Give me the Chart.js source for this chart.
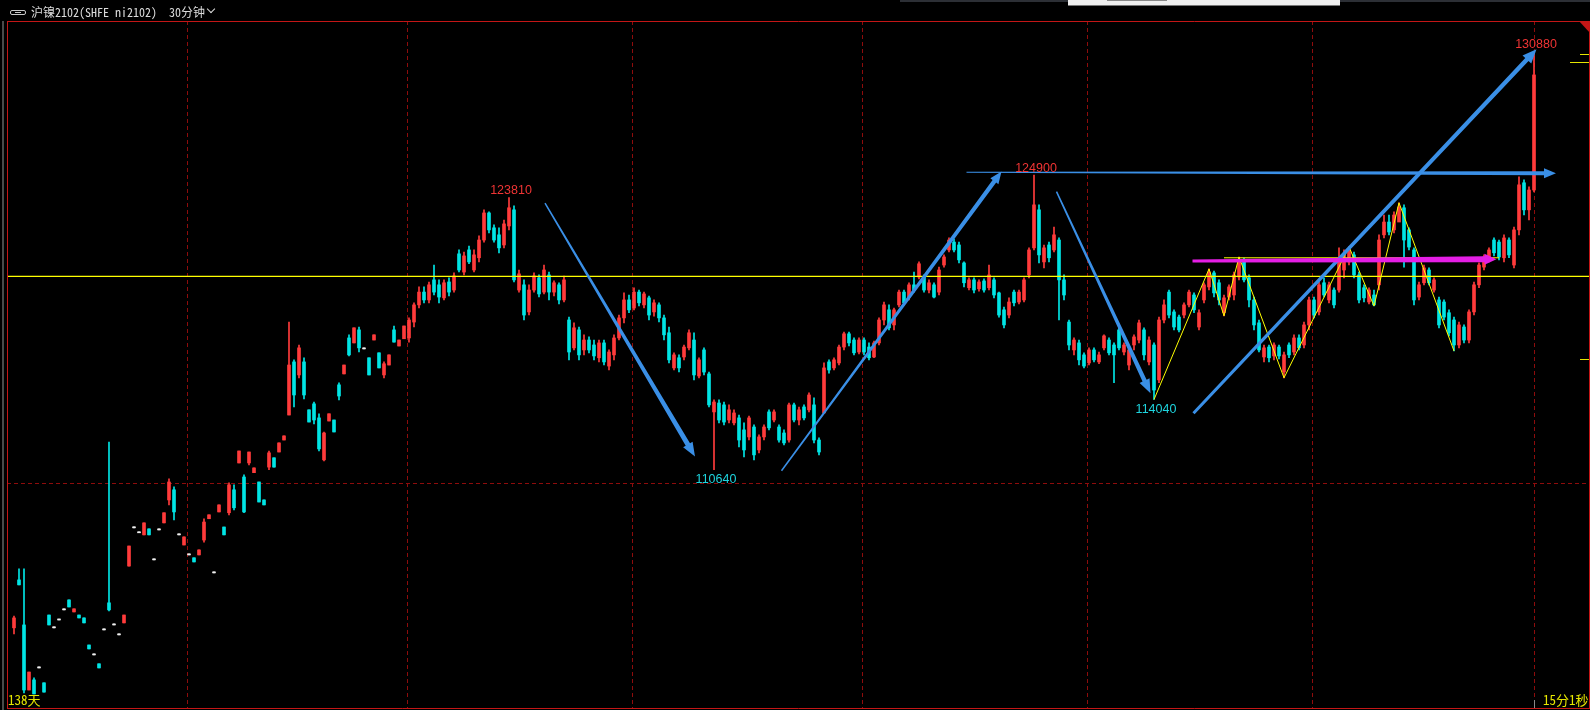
<!DOCTYPE html>
<html>
<head>
<meta charset="utf-8">
<title>沪镍2102 30分钟</title>
<script src="https://cdn.jsdelivr.net/npm/chart.js@4.4.0/dist/chart.umd.min.js"></script>
<style>
  html, body { margin: 0; padding: 0; background: #000; }
  body { position: relative; width: 1590px; height: 710px; overflow: hidden;
         font-family: "Noto Sans Mono CJK SC", "Noto Sans CJK SC", monospace; }
  #chart { position: absolute; left: 0; top: 0; }
  .strip { position: absolute; left: 900px; top: 0; width: 690px; height: 2px; background: #2c2f35; }
  .popup { position: absolute; left: 1068px; top: 0; width: 272px; height: 5px; background: #efefef;
           border-bottom: 1px solid #777; }
  .popup i { position: absolute; left: 39px; top: 0; width: 60px; height: 1px; background: #888; }
  .leftbar { position: absolute; left: 2px; top: 21px; width: 2px; height: 689px; background: #4a4a4a; }
  .ico { position: absolute; left: 10px; top: 10px; width: 14px; height: 3px; border: 1px solid #c8c8c8; border-radius: 2px; }
  .ico:after { content: ""; position: absolute; left: 4px; top: 1px; width: 6px; height: 1px; background: #c8c8c8; }
  .title { position: absolute; top: 4px; color: #dcdcdc; font-size: 12px; line-height: 16px; white-space: pre; }
  .chev { position: absolute; left: 208px; top: 6px; width: 5px; height: 5px;
          border-right: 1.5px solid #dcdcdc; border-bottom: 1.5px solid #dcdcdc; transform: rotate(45deg); }
  .foot { position: absolute; top: 692px; color: #e6e600; font-size: 13px; line-height: 16px; }
</style>
</head>
<body>
<canvas id="chart" width="1590" height="710"></canvas>
<div class="strip"></div>
<div class="popup"><i></i></div>
<div class="leftbar"></div>
<span class="ico"></span>
<span class="title" style="left:31px">沪镍2102(SHFE ni2102)</span>
<span class="title" style="left:169px">30分钟</span>
<span class="chev"></span>
<span class="foot" style="left:8px">138天</span>
<span class="foot" style="left:1543px">15分1秒</span>
<script>
/* 沪镍2102 30分钟 K线 */

// one entry per bar
const opens = [
  102990,105310,103130,99980,100470,101050,100330,103610,102990,103370,
  103860,104340,103760,103610,103470,102160,101680,101250,102890,104200,
  103130,102650,103230,105980,107830,107590,107490,107780,106280,107730,
  108070,109180,109670,107490,107000,106520,106380,106520,107240,108270,
  105650,108600,107870,108560,109670,110970,110290,110970,110500,110050,
  109180,110770,111220,111500,112080,113290,115860,115230,115860,113540,
  113830,113150,111120,113000,113050,114750,115280,117020,116780,117410,
  116490,116060,116920,116300,115230,115710,117410,116630,116980,117020,
  117790,118620,119240,118860,119830,119590,118960,119730,119340,121090,
  120210,121280,120310,120900,121760,123070,122350,122010,121520,122440,
  123220,119340,119590,118280,119340,119930,119240,120070,119240,119590,
  118860,117890,116540,117410,116440,116920,116680,116060,116780,115660,
  116200,117020,117990,118860,118470,119240,118620,118960,118280,118620,
  117990,117270,115570,116060,116100,116540,116920,115180,116440,115280,
  113440,113870,113780,113050,112910,113150,112570,112230,112710,111600,
  112230,113440,113050,112710,112420,112080,113780,113050,113680,113540,
  113780,112080,113390,115860,115570,115810,116580,117220,116920,116340,
  116920,116580,116100,116780,117890,118380,117650,118620,119240,119000,
  119590,119970,119970,119340,119590,119240,120550,121280,121660,121520,
  120650,119450,119830,119400,119780,119450,119830,119200,118380,118130,
  119240,118760,118860,120070,121380,123220,120700,121520,121280,121760,
  119830,117790,116440,116780,116200,115810,116440,115860,116540,116920,
  116680,117410,116340,115710,116680,116920,117410,115860,116680,114990,
  117890,119240,118280,118030,118130,118620,119100,117550,118860,119490,
  120170,119690,118240,119000,119100,119970,120700,119930,118860,117750,
  116100,116580,116150,116580,115370,116680,116340,117020,116680,117650,
  118860,118280,119690,118860,119340,119340,120310,120700,121040,120070,
  119450,118760,119100,119590,122010,122630,122250,122630,123320,122250,
  121280,119000,119690,120310,119340,118860,118760,118240,117890,116680,
  117550,116920,118280,119590,120450,120800,121760,121660,120900,121760,
  120550,122250,124530,123220,124180
];
const highs = [
  103560,105840,105840,100850,100570,101050,100330,103610,102990,103370,
  103860,104340,103910,103610,103470,102160,101680,101250,102890,111980,
  103130,102650,103610,106950,107830,107590,108070,107780,106280,107730,
  108560,110200,109810,107490,107390,106520,106380,106760,108270,108460,
  105650,108940,107870,110010,109910,111550,110390,111500,110730,110050,
  109180,111550,111220,111940,112280,117790,115960,116680,116060,113540,
  113920,113350,112470,113350,113050,114850,115710,117170,117510,117550,
  116490,116060,117170,116300,115860,116200,117600,116920,117600,117990,
  118720,119490,119490,119730,120550,119830,119830,119930,120170,121280,
  121180,121470,121280,121960,123220,123120,122490,122350,122730,123810,
  123410,120310,119830,119590,120170,120070,120550,120210,119780,119690,
  120020,118030,117750,117550,117170,117070,116920,116920,116920,116440,
  117170,118130,119200,119100,119450,119340,119240,119050,118860,118720,
  118130,117550,116300,116200,116680,117410,117270,116060,116540,115370,
  114020,114020,113920,113780,113540,113290,112910,113240,112810,112330,
  112810,113540,113540,112810,112570,113870,113870,113680,113780,114360,
  114120,112180,115810,115960,116060,116680,117310,117310,117020,117020,
  117020,116780,116870,117990,118760,118620,118470,119340,119340,119690,
  120210,120700,120070,119830,119690,120450,121040,121860,121810,121660,
  120700,119930,119930,119830,119880,120550,119930,119240,118520,118960,
  119340,119340,119930,121380,124900,123460,121520,121660,122390,121860,
  120070,117890,117020,116920,116300,116540,116540,116340,117170,117020,
  116780,117510,116780,116540,117170,117890,117510,117070,116780,118030,
  118860,119340,118380,118130,118720,119340,119200,118380,119690,120360,
  120260,119830,119100,119590,120210,120940,120890,120070,119000,117890,
  116680,116680,116780,116680,116340,116780,117170,117170,117790,119000,
  119000,119730,119930,119730,119450,121380,121280,121430,121180,120210,
  119590,119450,119340,122010,122970,122970,123120,123560,123460,122350,
  121380,119730,120550,120410,119930,119000,118860,118380,118030,117790,
  117650,118380,119730,120650,121040,121380,121860,121760,122010,121860,
  122390,124820,124670,124330,130880
];
const lows = [
  102700,105070,99840,99980,99790,101050,99880,103130,102990,103370,
  103860,104000,103760,103470,103230,101970,101680,101050,102890,103810,
  103130,102650,103230,105980,107830,107590,107490,107490,106280,107730,
  108070,108940,108210,107490,107000,106520,106180,106520,107140,108270,
  105650,108600,107490,108460,108700,110970,108560,110870,110500,109080,
  108940,110640,110770,111500,112080,113290,113680,115090,114070,112950,
  112860,111550,111070,113000,112470,114020,115280,116150,116780,116340,
  116490,115230,116920,115570,115090,115710,116820,116630,116980,116820,
  117550,118470,118720,118720,119100,118720,118860,119050,119240,120210,
  120070,120610,120210,120700,121660,122100,121660,121140,121380,122250,
  119730,119240,117890,118130,119240,119000,119150,118860,119050,118670,
  118760,115960,116440,115960,116200,116300,115960,115860,115710,115470,
  115960,116920,117750,118240,118380,118570,118470,117890,118080,117790,
  116920,115810,115470,115370,115960,116440,114990,115090,115230,113680,
  110640,112910,112810,112910,112810,111740,111260,112080,111120,111460,
  112080,112570,112950,111980,111840,111980,112950,112810,113050,113440,
  111940,111360,113390,115320,115470,115710,116440,116630,116200,116250,
  116200,115960,116060,116680,117650,117410,117410,118520,118620,118860,
  119240,119880,119240,119200,118960,119100,120450,121180,121180,120650,
  119490,119340,119200,119290,119240,119340,118960,118030,117510,117990,
  118570,118670,118760,119930,121280,120650,120410,120700,121180,117890,
  118860,116440,116200,115710,115570,115710,115860,115770,116440,116200,
  114850,116440,116200,115470,116440,116780,115960,115710,114040,114850,
  117750,117990,117410,117310,117990,118520,118240,117410,118720,119340,
  119000,118620,118090,118860,118860,119830,119730,118520,117410,116340,
  115860,115860,115960,116010,115090,116060,116200,116440,116540,117410,
  117990,118130,119000,118720,118470,119240,119930,120550,119930,118720,
  118760,118670,118570,119340,121860,122010,122100,122730,120450,121280,
  118620,118860,119590,119590,119240,117510,117890,117120,116390,116540,
  116780,116780,118130,119450,120310,120700,120990,120800,120700,120900,
  120410,122010,122970,122730,124090
];
const closes = [
  103470,105070,99980,100850,99790,101050,99880,103130,102990,103370,
  103860,104000,103910,103470,103230,101970,101680,101050,102890,103860,
  103130,102650,103610,106950,107830,107590,108070,107490,106280,107730,
  108560,110050,108600,107490,107390,106520,106180,106760,108110,108460,
  105650,108940,107490,109910,108800,111550,108600,111500,110730,109080,
  108940,111460,110770,111940,112280,115710,114260,116540,114260,112950,
  113050,111650,112420,113350,112470,114210,115710,116200,117510,116540,
  116490,115230,117170,115570,115770,116200,116820,116920,117600,117890,
  118620,119240,118860,119590,119240,119000,119690,119240,120020,120310,
  120990,120700,121040,121760,123070,122250,121760,121380,122540,123320,
  119830,120120,118130,119340,120020,119150,120310,119240,119690,118860,
  119830,116340,117510,116200,116920,116440,116150,116780,115860,116340,
  117020,117990,118860,118380,119240,118720,119150,118130,118720,117990,
  117170,115960,116200,115570,116580,117270,115230,115960,115370,113780,
  113920,113050,112950,113540,113390,112080,111600,113150,111360,112230,
  112710,112670,113440,112080,111940,113780,113050,113540,113150,114260,
  112080,111500,115570,115470,115960,116580,117220,116780,116300,116920,
  116340,116060,116780,117890,118620,117510,118380,119240,118720,119590,
  119340,120610,119340,119690,119000,120310,120940,121760,121280,120800,
  119690,119830,119340,119730,119340,120070,119100,118130,117650,118760,
  118720,119240,119830,121280,123460,121040,121380,120900,122010,119830,
  119100,116680,116920,115960,115660,116440,115960,116200,117120,116300,
  116200,116540,116680,116440,117070,117750,116200,116920,114500,117890,
  118620,118130,117550,117410,118620,119240,118380,118240,119590,120210,
  119200,118860,118960,119490,120070,120700,119830,118860,117650,116440,
  116540,116060,116680,116150,116200,116200,117020,116540,117650,118860,
  118130,119590,119100,119590,118620,120800,121040,121280,120070,118860,
  118960,119340,118620,121760,122630,122150,122970,123360,121760,121420,
  118860,119590,120410,119690,119830,117650,118030,117270,116680,117650,
  116920,118280,119590,120550,120940,121280,121140,120940,121860,121040,
  122250,124430,123220,124180,129750
];

// grid: session separators (bar index) and price lines
const sessionBreaks = [34.5, 78.5, 123.5, 169.5, 214.5, 259.5, 304];
const priceGrid = [110000, 120000];

// yellow level line and zigzag
const levelPrice = 120000;
const zigIdx = [228, 239, 242, 245, 254, 267, 272, 277, 288];
const zigPrice = [114040, 120360, 118090, 120940, 115090, 121430, 118570, 123560, 116390];
const neckIdx = [242, 297];
const neckPrice = [120900, 120900];

// hand-drawn arrows (start/end in bar index and price)
const arrowX0 = [106.2, 153.5, 190.5, 208.5, 235.9, 235.7];
const arrowP0 = [123540, 110590, 125040, 124100, 113380, 120750];
const arrowX1 = [136.2, 197.5, 308.4, 227.3, 304.5, 296.5];
const arrowP1 = [111280, 125070, 124990, 114340, 130990, 120830];

// extreme price labels
const labelIdx = [99, 140, 204, 228, 304];
const labelPrice = [123810, 110640, 124900, 114040, 130880];
const labelIsHigh = [true, false, true, false, true];

// right edge markers
const sideMarks = [130760, 130370, 115990];

const UP = '#ff3b3b', DOWN = '#00e5e5', FLAT = '#f0f0f0';
const arrowStyle = {
  width0: [1.5, 1.5, 1.2, 1.5, 3, 3],
  width1: [5, 4.5, 4, 4.5, 4.5, 6],
  headLen: [14, 12, 12, 14, 14, 12],
  headW: [11, 10, 10, 11, 12, 11],
  color: ['#3a8fe6', '#3a8fe6', '#3a8fe6', '#3a8fe6', '#3a8fe6', '#e51ee5']
};

function candleColor(i) {
  if (closes[i] > opens[i]) return UP;
  if (closes[i] < opens[i]) return DOWN;
  return FLAT;
}

function drawArrow(ctx, x0, y0, x1, y1, w0, w1, hl, hw, color) {
  const len = Math.hypot(x1 - x0, y1 - y0);
  const ux = (x1 - x0) / len, uy = (y1 - y0) / len;
  const nx = -uy, ny = ux;
  const bx = x1 - ux * hl, by = y1 - uy * hl;
  ctx.fillStyle = color;
  ctx.beginPath();
  ctx.moveTo(x0 + nx * w0 / 2, y0 + ny * w0 / 2);
  ctx.lineTo(bx + nx * w1 / 2, by + ny * w1 / 2);
  ctx.lineTo(bx + nx * hw / 2, by + ny * hw / 2);
  ctx.lineTo(x1, y1);
  ctx.lineTo(bx - nx * hw / 2, by - ny * hw / 2);
  ctx.lineTo(bx - nx * w1 / 2, by - ny * w1 / 2);
  ctx.lineTo(x0 - nx * w0 / 2, y0 - ny * w0 / 2);
  ctx.closePath();
  ctx.fill();
}

// dashed red grid under the candles
const gridPlugin = {
  id: 'grid',
  beforeDatasetsDraw(chart) {
    const { ctx, chartArea: a, scales: { x, y } } = chart;
    ctx.save();
    ctx.strokeStyle = '#8e0c0c';
    ctx.lineWidth = 1;
    ctx.setLineDash([4, 3]);
    sessionBreaks.forEach(v => {
      const px = Math.round(x.getPixelForValue(v)) + 0.5;
      ctx.beginPath(); ctx.moveTo(px, a.top); ctx.lineTo(px, a.bottom); ctx.stroke();
    });
    priceGrid.forEach(v => {
      const py = Math.round(y.getPixelForValue(v)) + 0.5;
      ctx.beginPath(); ctx.moveTo(a.left, py); ctx.lineTo(a.right, py); ctx.stroke();
    });
    ctx.restore();
  }
};

// arrows, labels, frame
const overlayPlugin = {
  id: 'overlay',
  afterDatasetsDraw(chart) {
    const { ctx, scales: { x, y } } = chart;
    ctx.save();
    arrowX0.forEach((v, k) => {
      drawArrow(ctx,
        x.getPixelForValue(v), y.getPixelForValue(arrowP0[k]),
        x.getPixelForValue(arrowX1[k]), y.getPixelForValue(arrowP1[k]),
        arrowStyle.width0[k], arrowStyle.width1[k], arrowStyle.headLen[k], arrowStyle.headW[k], arrowStyle.color[k]);
    });
    ctx.font = '12.5px "Liberation Sans", Arial, sans-serif';
    ctx.textAlign = 'center';
    ctx.textBaseline = 'middle';
    labelIdx.forEach((v, k) => {
      const px = x.getPixelForValue(v) + 2;
      const py = y.getPixelForValue(labelPrice[k]) + (labelIsHigh[k] ? -7 : 10);
      ctx.fillStyle = labelIsHigh[k] ? '#f03434' : '#1ed4de';
      ctx.fillText(String(labelPrice[k]), px, py);
    });
    ctx.restore();
  },
  afterDraw(chart) {
    const { ctx, chartArea: a, scales: { x, y } } = chart;
    ctx.save();
    ctx.strokeStyle = '#c41616';
    ctx.lineWidth = 1;
    ctx.beginPath();
    ctx.moveTo(a.left + 0.5, a.top + 0.5); ctx.lineTo(1590, a.top + 0.5);
    ctx.moveTo(a.left + 0.5, a.top); ctx.lineTo(a.left + 0.5, a.bottom + 1);
    ctx.moveTo(a.right + 0.5, a.top); ctx.lineTo(a.right + 0.5, a.bottom + 1);
    ctx.moveTo(a.left, a.bottom + 0.5); ctx.lineTo(1590, a.bottom + 0.5);
    ctx.stroke();
    ctx.fillStyle = '#c41616';
    ctx.beginPath();
    ctx.moveTo(a.right - 10, a.top); ctx.lineTo(a.right + 1, a.top); ctx.lineTo(a.right + 1, a.top + 12);
    ctx.closePath(); ctx.fill();
    // small yellow markers at the right edge
    ctx.strokeStyle = '#e6e600';
    sideMarks.forEach((p, k) => {
      const py = Math.round(y.getPixelForValue(p)) + 0.5;
      ctx.beginPath(); ctx.moveTo(a.right - (k === 1 ? 19 : 9), py); ctx.lineTo(a.right, py); ctx.stroke();
    });
    // cursor tick at the last bar
    const lx = Math.round(x.getPixelForValue(opens.length - 1)) + 0.5;
    ctx.strokeStyle = '#8a8a8a';
    ctx.beginPath(); ctx.moveTo(lx, a.bottom - 8); ctx.lineTo(lx, a.bottom); ctx.stroke();
    ctx.restore();
  }
};

const idx = opens.map((_, i) => i);

new Chart(document.getElementById('chart'), {
  type: 'bar',
  data: {
    datasets: [
      {
        type: 'line', order: 0,
        data: zigIdx.map((v, k) => ({ x: v, y: zigPrice[k] })),
        borderColor: '#ffff00', borderWidth: 1, pointRadius: 0, tension: 0
      },
      {
        type: 'line', order: 0,
        data: neckIdx.map((v, k) => ({ x: v, y: neckPrice[k] })),
        borderColor: '#ffff00', borderWidth: 1, pointRadius: 0
      },
      {
        type: 'line', order: 1,
        data: [{ x: -1.4, y: levelPrice }, { x: 315, y: levelPrice }],
        borderColor: '#ffff00', borderWidth: 1.2, pointRadius: 0
      },
      {
        order: 2, grouped: false, barThickness: 3, minBarLength: 1,
        data: idx.map(i => ({ x: i, y: [opens[i], closes[i]] })),
        backgroundColor: c => candleColor(c.dataIndex), borderWidth: 0
      },
      {
        order: 3, grouped: false, barThickness: 1, minBarLength: 1,
        data: idx.map(i => ({ x: i, y: [lows[i], highs[i]] })),
        backgroundColor: c => candleColor(c.dataIndex), borderWidth: 0
      }
    ]
  },
  options: {
    responsive: false,
    devicePixelRatio: 1,
    animation: false,
    events: [],
    layout: { padding: { left: 7, top: 21, right: 1, bottom: 2 } },
    scales: {
      x: { type: 'linear', min: -1.4, max: 315, offset: false, display: false },
      y: { min: 99110, max: 132360, display: false }
    },
    plugins: { legend: { display: false }, tooltip: { enabled: false } }
  },
  plugins: [gridPlugin, overlayPlugin]
});
</script>
</body>
</html>
